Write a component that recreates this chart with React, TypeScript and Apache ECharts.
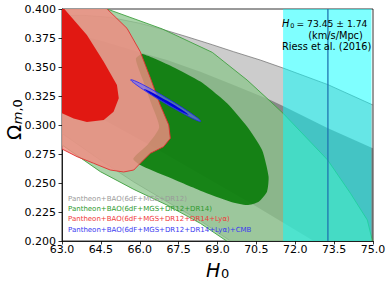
import React, { useEffect, useRef } from 'react';
import * as echarts from 'echarts';

type Pt = [number, number];

const X_MIN = 63;
const X_MAX = 75;
const X_STEP = 1.5;
const Y_MIN = 0.2;
const Y_MAX = 0.4;
const Y_STEP = 0.025;

// Riess et al. band and central value (positions as drawn in the figure)
const RIESS_BAND: [number, number] = [71.53, 74.94];
const RIESS_LINE = 73.26;
const RIESS_TEXT = ['= 73.45 ± 1.74', '(km/s/Mpc)', 'Riess et al. (2016)'];

const LEGEND_LABELS = [
  'Pantheon+BAO(6dF+MGS+DR12)',
  'Pantheon+BAO(6dF+MGS+DR12+DR14)',
  'Pantheon+BAO(6dF+MGS+DR12+DR14+Lyα)',
  'Pantheon+BAO(6dF+MGS+DR12+DR14+Lyα)+CMB',
];

// Contours (H0, Omega_m0)
const GRAY_2SIGMA: Pt[] = [
  [62.0, 0.39], [62.5, 0.3935], [63.0, 0.3943], [63.84, 0.3945], [64.86, 0.3928], [66.02, 0.3876],
  [67.05, 0.3813], [67.82, 0.3761], [68.8, 0.3692], [69.62, 0.3632], [70.65, 0.356], [71.53, 0.3491],
  [73.26, 0.3348], [75.0, 0.3172], [76.0, 0.305], [76.5, 0.25], [76.5, 0.17], [70.5, 0.17], [69.9, 0.19],
  [69.5, 0.2], [68.34, 0.2175], [67.05, 0.2339], [65.77, 0.2509], [64.48, 0.2698], [63.0, 0.2928],
  [62.3, 0.305], [61.8, 0.33], [61.6, 0.36], [61.7, 0.38],
];
const GRAY_1SIGMA: Pt[] = [
  [61.8, 0.375], [63.0, 0.3813], [64.48, 0.3729], [66.02, 0.3626], [67.05, 0.356], [68.34, 0.346],
  [69.62, 0.3345], [71.04, 0.3216], [71.53, 0.3164], [73.24, 0.2974], [74.97, 0.2802], [76.0, 0.27],
  [76.5, 0.17], [73.0, 0.17], [72.71, 0.2], [70.4, 0.231], [66.52, 0.281], [63.0, 0.3244], [62.2, 0.338],
  [61.7, 0.36],
];
const GREEN_2SIGMA: Pt[] = [
  [62.0, 0.395], [62.8, 0.402], [63.8, 0.405], [64.74, 0.4], [66.87, 0.3828], [68.8, 0.3626],
  [70.14, 0.3388], [70.91, 0.323], [71.53, 0.3101], [73.25, 0.2698], [74.13, 0.2411], [74.78, 0.2181],
  [74.97, 0.2009], [74.95, 0.19], [74.7, 0.18], [70.0, 0.18], [69.37, 0.1997], [68.34, 0.2152],
  [67.05, 0.231], [65.77, 0.2445], [64.48, 0.2598], [63.0, 0.2828], [62.3, 0.295], [61.8, 0.32],
  [61.6, 0.36],
];
const GREEN_1SIGMA: Pt[] = [
  [66.1, 0.3612], [67.26, 0.3503], [68.34, 0.3374], [69.37, 0.3187], [70.14, 0.2986], [70.72, 0.2784],
  [70.97, 0.2555], [70.91, 0.2425], [70.59, 0.2339], [70.14, 0.231], [69.5, 0.2339], [68.34, 0.2434],
  [67.05, 0.2555], [66.02, 0.2655], [65.75, 0.271], [66.3, 0.283], [66.75, 0.298], [66.45, 0.318],
  [66.1, 0.34], [65.85, 0.357],
];
const RED_2SIGMA: Pt[] = [
  [64.55, 0.41], [64.74, 0.4], [65.51, 0.3833], [66.02, 0.3632], [66.41, 0.3405], [66.79, 0.3172],
  [67.12, 0.3], [67.18, 0.2885], [66.92, 0.2813], [66.41, 0.2756], [66.02, 0.267], [65.77, 0.2612],
  [65.38, 0.2595], [64.86, 0.2612], [64.22, 0.267], [63.58, 0.2727], [63.0, 0.2793], [62.5, 0.286],
  [62.0, 0.3], [61.8, 0.36], [62.0, 0.4], [62.8, 0.412],
];
const RED_1SIGMA: Pt[] = [
  [63.09, 0.4], [63.96, 0.3776], [64.61, 0.3546], [65.12, 0.3345], [65.19, 0.323], [64.99, 0.3115],
  [64.61, 0.3043], [63.96, 0.3026], [63.45, 0.3055], [63.0, 0.3101], [62.5, 0.318], [62.2, 0.35],
  [62.3, 0.4], [62.8, 0.41],
];
const BLUE_2SIGMA: Pt[] = [
  [68.348, 0.3032], [68.141, 0.3046], [67.629, 0.3105], [66.947, 0.3191], [66.281, 0.3284],
  [65.806, 0.3357], [65.652, 0.339], [65.859, 0.3376], [66.371, 0.3318], [67.053, 0.3231],
  [67.719, 0.3139], [68.195, 0.3066],
];
const BLUE_1SIGMA: Pt[] = [
  [67.9, 0.3086], [67.772, 0.3096], [67.444, 0.3134], [67.006, 0.3189], [66.576, 0.3246],
  [66.267, 0.3291], [66.164, 0.331], [66.293, 0.33], [66.621, 0.3263], [67.058, 0.3208],
  [67.489, 0.3151], [67.797, 0.3106],
];

const FONT = 'DejaVu Sans';

const LAYERS = [
  { pts: GRAY_2SIGMA, fill: 'rgba(128,128,128,0.4)', stroke: 'rgba(110,110,110,0.8)', lw: 0.9, smooth: 0 },
  { pts: GRAY_1SIGMA, fill: 'rgba(80,80,80,0.55)', stroke: 'none', lw: 0, smooth: 0 },
  { pts: GREEN_2SIGMA, fill: 'rgba(140,198,140,0.75)', stroke: '#3fa03f', lw: 0.9, smooth: 0 },
  { pts: GREEN_1SIGMA, fill: 'rgba(0,120,0,0.85)', stroke: 'none', lw: 0, smooth: 0.2 },
  { pts: RED_2SIGMA, fill: 'rgba(242,140,130,0.82)', stroke: '#e03030', lw: 0.9, smooth: 0 },
  { pts: RED_1SIGMA, fill: 'rgba(225,10,5,0.9)', stroke: 'none', lw: 0, smooth: 0 },
  { pts: BLUE_2SIGMA, fill: 'rgba(110,110,255,0.65)', stroke: '#2020ff', lw: 0.8, smooth: 0.4 },
  { pts: BLUE_1SIGMA, fill: '#0000dd', stroke: 'none', lw: 0, smooth: 0.4 },
];

const LEGEND_COLORS = ['#9a9a9a', '#2e9a2e', '#f03a3a', '#3a3af0'];

function clipRect(params: any) {
  const cs = params.coordSys;
  return { type: 'rect', shape: { x: cs.x, y: cs.y, width: cs.width, height: cs.height } };
}

function buildOption(): any {
  const series: any[] = LAYERS.map((l, i) => ({
    type: 'custom',
    coordinateSystem: 'cartesian2d',
    clip: true,
    silent: true,
    z: 2 + i,
    data: [[69, 0.3]],
    renderItem: (params: any, api: any) => ({
      type: 'polygon',
      shape: { points: l.pts.map((p) => api.coord(p)), smooth: l.smooth },
      style: { fill: l.fill, stroke: l.stroke, lineWidth: l.lw },
      clipPath: clipRect(params),
    }),
  }));
  series.push({
    type: 'custom',
    coordinateSystem: 'cartesian2d',
    clip: true,
    silent: true,
    z: 20,
    data: [[RIESS_BAND[0], Y_MAX]],
    renderItem: (params: any, api: any) => {
      const a = api.coord([RIESS_BAND[0], Y_MAX]);
      const b = api.coord([RIESS_BAND[1], Y_MIN]);
      const c1 = api.coord([RIESS_LINE, Y_MAX]);
      const c2 = api.coord([RIESS_LINE, Y_MIN]);
      return {
        type: 'group',
        children: [
          { type: 'rect', shape: { x: a[0], y: a[1], width: b[0] - a[0], height: b[1] - a[1] }, style: { fill: 'rgba(0,255,255,0.5)' } },
          { type: 'line', shape: { x1: c1[0], y1: c1[1], x2: c2[0], y2: c2[1] }, style: { stroke: '#1f74b0', lineWidth: 1.3 } },
        ],
      };
    },
  });

  const txt = (x: number, y: number, text: string, extra: any = {}) => ({
    type: 'text', x, y, z: 100,
    style: { text, fontFamily: FONT, fontSize: 9.8, fill: '#000', verticalAlign: 'middle', align: 'left', ...extra },
  });

  const graphic: any[] = [
    txt(282, 23, 'H', { fontStyle: 'italic' }),
    txt(290.3, 26, '0', { fontSize: 6.5 }),
    txt(296.5, 23, RIESS_TEXT[0], { fontSize: 9.2 }),
    txt(335.5, 35, RIESS_TEXT[1], { align: 'center' }),
    txt(282, 46.5, RIESS_TEXT[2]),
    ...LEGEND_LABELS.map((s, i) => txt(68, [199.3, 209.3, 219.3, 230][i], s, { fontSize: 7, fill: LEGEND_COLORS[i] })),
    txt(206, 270.4, 'H', { fontStyle: 'italic', fontSize: 19 }),
    txt(221, 273.5, '0', { fontSize: 13 }),
    {
      type: 'group', x: 14, y: 140, rotation: Math.PI / 2, z: 100,
      children: [
        { type: 'text', x: 0, y: 0, style: { text: 'Ω', fontFamily: FONT, fontSize: 20, fill: '#000', verticalAlign: 'middle', align: 'left' } },
        {
          type: 'text', x: 15.8, y: 3,
          style: {
            text: '{i|m}{n|,0}', fill: '#000', verticalAlign: 'middle', align: 'left',
            rich: { i: { fontStyle: 'italic', fontSize: 13, fontFamily: FONT, fill: '#000' }, n: { fontSize: 13, fontFamily: FONT, fill: '#000' } },
          },
        },
      ],
    },
  ];

  const axisCommon = {
    type: 'value',
    axisLine: { show: true, onZero: false, lineStyle: { color: '#000', width: 0.8 } },
    axisTick: { show: true, length: 3.5, lineStyle: { color: '#000', width: 0.8 } },
    splitLine: { show: false },
  };

  return {
    animation: false,
    grid: { left: 62, right: 18, top: 9, bottom: 44, show: true, borderColor: '#000', borderWidth: 0.8, backgroundColor: 'transparent' },
    xAxis: {
      ...axisCommon, min: X_MIN, max: X_MAX, interval: X_STEP,
      axisLabel: { formatter: (v: number) => v.toFixed(1), color: '#000', fontSize: 11, fontFamily: FONT, margin: 3 },
    },
    yAxis: {
      ...axisCommon, min: Y_MIN, max: Y_MAX, interval: Y_STEP,
      axisLabel: { formatter: (v: number) => v.toFixed(3), color: '#000', fontSize: 11, fontFamily: FONT, margin: 6 },
    },
    series,
    graphic,
  };
}

export default function App() {
  const ref = useRef<HTMLDivElement>(null);
  useEffect(() => {
    document.body.style.margin = '0';
    const chart = echarts.init(ref.current!, null, { renderer: 'svg' });
    chart.setOption(buildOption());
    return () => chart.dispose();
  }, []);
  return <div ref={ref} style={{ width: 391, height: 285, position: 'absolute', left: 0, top: 0, background: '#fff' }} />;
}
